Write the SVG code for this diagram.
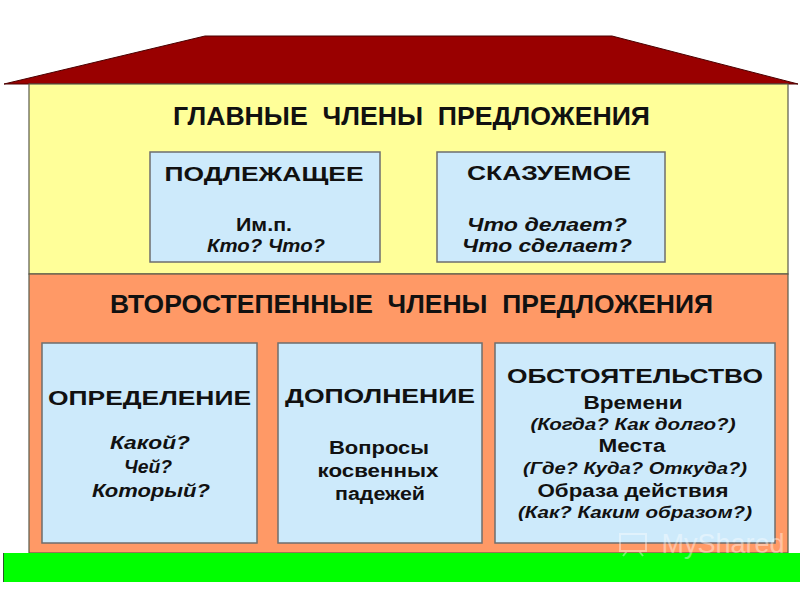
<svg xmlns="http://www.w3.org/2000/svg" width="800" height="600" viewBox="0 0 800 600">
  <style>
    text { font-family: "Liberation Sans", Arial, sans-serif; font-weight: bold; fill: #111; text-anchor: middle; white-space: pre; }
    .h { font-size: 25px; }
    .t { font-size: 21px; }
    .s { font-size: 18px; }
    .p { font-size: 16px; }
    .i { font-style: italic; }
    .box { fill: #cdeafb; stroke: #6e6e6e; stroke-width: 1.5; }
    .wall { stroke: #5a5a4a; stroke-width: 1.2; }
  </style>
  <rect x="0" y="0" width="800" height="600" fill="#ffffff"/>

  <g id="roof">
    <polygon points="4,84 205,36 612,36 798,84" fill="#990000" stroke="#4a0000" stroke-width="1"/>
  </g>

  <g id="main-members">
    <rect class="wall" x="29" y="84" width="759" height="190" fill="#ffff99"/>
    <text class="h" x="411.5" y="125" textLength="477" lengthAdjust="spacingAndGlyphs" xml:space="preserve">ГЛАВНЫЕ  ЧЛЕНЫ  ПРЕДЛОЖЕНИЯ</text>
  </g>

  <g id="podlezhashchee">
    <rect class="box" x="150" y="152" width="230" height="110"/>
    <text class="t" x="264" y="181" textLength="199" lengthAdjust="spacingAndGlyphs">ПОДЛЕЖАЩЕЕ</text>
    <text class="s" x="264" y="231" textLength="56" lengthAdjust="spacingAndGlyphs">Им.п.</text>
    <text class="s i" x="266" y="252" textLength="118" lengthAdjust="spacingAndGlyphs">Кто? Что?</text>
  </g>

  <g id="skazuemoe">
    <rect class="box" x="437" y="152" width="228" height="110"/>
    <text class="t" x="549" y="180" textLength="164" lengthAdjust="spacingAndGlyphs">СКАЗУЕМОЕ</text>
    <text class="s i" x="547" y="231" textLength="160" lengthAdjust="spacingAndGlyphs">Что делает?</text>
    <text class="s i" x="547" y="252" textLength="170" lengthAdjust="spacingAndGlyphs">Что сделает?</text>
  </g>

  <g id="secondary-members">
    <rect class="wall" x="29" y="274" width="759" height="279" fill="#ff9966"/>
    <text class="h" x="411.5" y="313" textLength="603" lengthAdjust="spacingAndGlyphs" xml:space="preserve">ВТОРОСТЕПЕННЫЕ  ЧЛЕНЫ  ПРЕДЛОЖЕНИЯ</text>
  </g>

  <g id="opredelenie">
    <rect class="box" x="42" y="343" width="215" height="200"/>
    <text class="t" x="149.5" y="405" textLength="203" lengthAdjust="spacingAndGlyphs">ОПРЕДЕЛЕНИЕ</text>
    <text class="s i" x="150" y="449" textLength="80" lengthAdjust="spacingAndGlyphs">Какой?</text>
    <text class="s i" x="148" y="473" textLength="48" lengthAdjust="spacingAndGlyphs">Чей?</text>
    <text class="s i" x="151" y="497" textLength="118" lengthAdjust="spacingAndGlyphs">Который?</text>
  </g>

  <g id="dopolnenie">
    <rect class="box" x="278" y="343" width="204" height="200"/>
    <text class="t" x="380" y="403" textLength="190" lengthAdjust="spacingAndGlyphs">ДОПОЛНЕНИЕ</text>
    <text class="s" x="379" y="454" textLength="100" lengthAdjust="spacingAndGlyphs">Вопросы</text>
    <text class="s" x="378" y="477" textLength="121" lengthAdjust="spacingAndGlyphs">косвенных</text>
    <text class="s" x="380" y="500" textLength="90" lengthAdjust="spacingAndGlyphs">падежей</text>
  </g>

  <g id="obstoyatelstvo">
    <rect class="box" x="495" y="343" width="280" height="200"/>
    <text class="t" x="635" y="383" textLength="256" lengthAdjust="spacingAndGlyphs">ОБСТОЯТЕЛЬСТВО</text>
    <text class="s" x="633" y="409" textLength="99" lengthAdjust="spacingAndGlyphs">Времени</text>
    <text class="p i" x="633" y="430" textLength="205" lengthAdjust="spacingAndGlyphs">(Когда? Как долго?)</text>
    <text class="s" x="632" y="452" textLength="67" lengthAdjust="spacingAndGlyphs">Места</text>
    <text class="p i" x="635" y="474" textLength="224" lengthAdjust="spacingAndGlyphs">(Где? Куда? Откуда?)</text>
    <text class="s" x="633" y="497" textLength="191" lengthAdjust="spacingAndGlyphs">Образа действия</text>
    <text class="p i" x="635" y="518" textLength="234" lengthAdjust="spacingAndGlyphs">(Как? Каким образом?)</text>
  </g>

  <g id="ground">
    <rect x="3" y="553" width="797" height="29" fill="#00ff00"/>
    <line x1="3.5" y1="553" x2="3.5" y2="582" stroke="#2a5a2a" stroke-width="1"/>
  </g>

  <g id="watermark" opacity="0.4">
    <rect x="620" y="534" width="26" height="17" fill="none" stroke="#ffffff" stroke-width="2"/>
    <line x1="627" y1="551" x2="623" y2="556" stroke="#ffffff" stroke-width="2"/>
    <line x1="639" y1="551" x2="643" y2="556" stroke="#ffffff" stroke-width="2"/>
    <text x="723" y="553" style="font-family:'Liberation Sans',Arial,sans-serif;font-weight:normal;font-size:28px;fill:#ffffff" textLength="123" lengthAdjust="spacingAndGlyphs">MyShared</text>
  </g>
</svg>
